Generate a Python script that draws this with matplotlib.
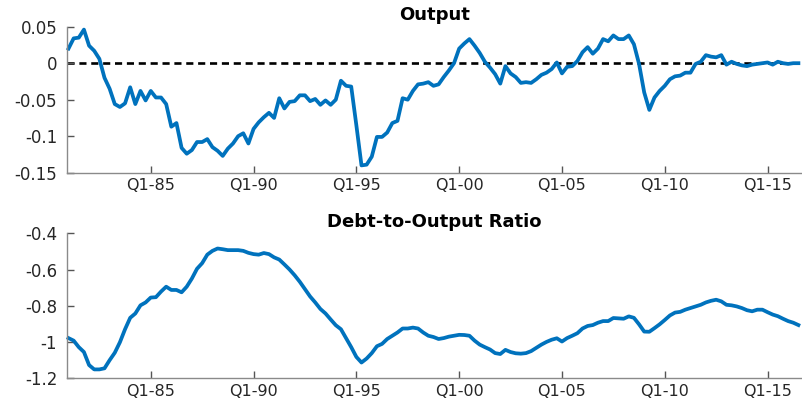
import numpy as np
import matplotlib
matplotlib.use("Agg")
import matplotlib.pyplot as plt

# quarterly series, first observation 1981 Q1
output_gap = [
    0.020, 0.034, 0.035, 0.046, 0.024, 0.017, 0.006, -0.020, -0.035, -0.056,
    -0.060, -0.055, -0.033, -0.056, -0.038, -0.051, -0.038, -0.047, -0.047, -0.056,
    -0.087, -0.082, -0.116, -0.124, -0.119, -0.108, -0.108, -0.104, -0.115, -0.120,
    -0.127, -0.117, -0.110, -0.100, -0.096, -0.110, -0.090, -0.081, -0.074, -0.068,
    -0.075, -0.048, -0.062, -0.053, -0.052, -0.044, -0.044, -0.052, -0.049, -0.057,
    -0.051, -0.057, -0.050, -0.024, -0.031, -0.032, -0.085, -0.140, -0.139, -0.128,
    -0.101, -0.101, -0.095, -0.082, -0.079, -0.048, -0.050, -0.038, -0.029, -0.028,
    -0.026, -0.031, -0.029, -0.019, -0.010, 0.000, 0.020, 0.027, 0.033, 0.024,
    0.014, 0.002, -0.006, -0.015, -0.028, -0.004, -0.014, -0.019, -0.027, -0.026,
    -0.027, -0.022, -0.016, -0.013, -0.008, 0.001, -0.014, -0.005, -0.004, 0.003,
    0.015, 0.022, 0.013, 0.020, 0.033, 0.030, 0.038, 0.033, 0.033, 0.038,
    0.026, -0.001, -0.040, -0.064, -0.047, -0.038, -0.031, -0.022, -0.018, -0.017,
    -0.013, -0.013, -0.001, 0.002, 0.011, 0.009, 0.008, 0.011, -0.002, 0.002,
    -0.001, -0.003, -0.004, -0.002, -0.001, 0.000, 0.001, -0.002, 0.002, 0.000,
    -0.001, 0.000, 0.000,
]

debt_ratio = [
    -0.978, -0.992, -1.028, -1.055, -1.127, -1.151, -1.151, -1.145, -1.100, -1.059,
    -1.001, -0.929, -0.866, -0.842, -0.797, -0.781, -0.754, -0.752, -0.721, -0.694,
    -0.712, -0.712, -0.725, -0.694, -0.649, -0.595, -0.564, -0.517, -0.496, -0.483,
    -0.487, -0.492, -0.492, -0.492, -0.496, -0.507, -0.514, -0.517, -0.508, -0.514,
    -0.532, -0.544, -0.571, -0.599, -0.631, -0.667, -0.707, -0.748, -0.781, -0.817,
    -0.842, -0.875, -0.907, -0.929, -0.979, -1.028, -1.082, -1.113, -1.091, -1.061,
    -1.023, -1.010, -0.983, -0.965, -0.947, -0.925, -0.925, -0.920, -0.925, -0.947,
    -0.965, -0.972, -0.983, -0.978, -0.970, -0.965, -0.960, -0.961, -0.965, -0.992,
    -1.014, -1.028, -1.041, -1.061, -1.066, -1.043, -1.055, -1.062, -1.064, -1.061,
    -1.050, -1.032, -1.014, -0.999, -0.987, -0.979, -0.997, -0.978, -0.965, -0.951,
    -0.925, -0.911, -0.906, -0.893, -0.884, -0.884, -0.867, -0.869, -0.871, -0.858,
    -0.866, -0.902, -0.942, -0.943, -0.923, -0.902, -0.878, -0.853, -0.837, -0.833,
    -0.821, -0.812, -0.803, -0.794, -0.781, -0.772, -0.766, -0.775, -0.794, -0.797,
    -0.803, -0.812, -0.824, -0.830, -0.821, -0.821, -0.835, -0.848, -0.857, -0.871,
    -0.884, -0.893, -0.906,
]

# x ticks: Q1 of every fifth year, counted in quarters from 1981 Q1
xtick_pos = [16, 36, 56, 76, 96, 116, 136]
xtick_labels = ["Q1-85", "Q1-90", "Q1-95", "Q1-00", "Q1-05", "Q1-10", "Q1-15"]

out_ticks = [-0.15, -0.1, -0.05, 0, 0.05]
out_labels = ["-0.15", "-0.1", "-0.05", "0", "0.05"]
debt_ticks = [-1.2, -1.0, -0.8, -0.6, -0.4]
debt_labels = ["-1.2", "-1", "-0.8", "-0.6", "-0.4"]

LINE_BLUE = "#0072BD"
AXIS_GREY = "#8a8a8a"
TEXT_DARK = "#262626"

plt.rcParams["font.family"] = ["DejaVu Sans"]

fig = plt.figure(figsize=(8.02, 4.05), dpi=100)
ax_top = fig.add_axes([0.0835, 0.5736, 0.9165, 0.3605])
ax_bot = fig.add_axes([0.0835, 0.066, 0.9165, 0.3575])


def style_axes(ax, yticks, ylabels, ylim):
    ax.set_xlim(-0.3, 142.7)
    ax.set_ylim(*ylim)
    ax.set_xticks(xtick_pos)
    ax.set_xticklabels(xtick_labels)
    ax.set_yticks(yticks)
    ax.set_yticklabels(ylabels)
    for side in ("top", "right"):
        ax.spines[side].set_visible(False)
    for side in ("left", "bottom"):
        ax.spines[side].set_color(AXIS_GREY)
        ax.spines[side].set_linewidth(1.0)
    ax.tick_params(direction="in", length=5, width=1.0, color="#555555",
                   labelsize=12, labelcolor=TEXT_DARK)
    ax.tick_params(axis="y", pad=7)
    ax.tick_params(axis="x", pad=4, labelsize=11.5)


x = np.arange(len(output_gap))

ax_top.axhline(0, color="black", lw=1.9, ls=(0, (2.7, 1.8)), zorder=1)
ax_top.plot(x, output_gap, color=LINE_BLUE, lw=2.7, zorder=2)
style_axes(ax_top, out_ticks, out_labels, (-0.15, 0.05))
ax_top.set_title("Output", fontsize=13, fontweight="bold", pad=5)

xd = np.arange(len(debt_ratio))
ax_bot.plot(xd, debt_ratio, color=LINE_BLUE, lw=2.7)
style_axes(ax_bot, debt_ticks, debt_labels, (-1.2, -0.4))
ax_bot.set_title("Debt-to-Output Ratio", fontsize=13, fontweight="bold", pad=5)

for ax in (ax_top, ax_bot):
    for line in ax.get_lines():
        line.set_clip_on(False)

fig.savefig("out.png", dpi=100)
